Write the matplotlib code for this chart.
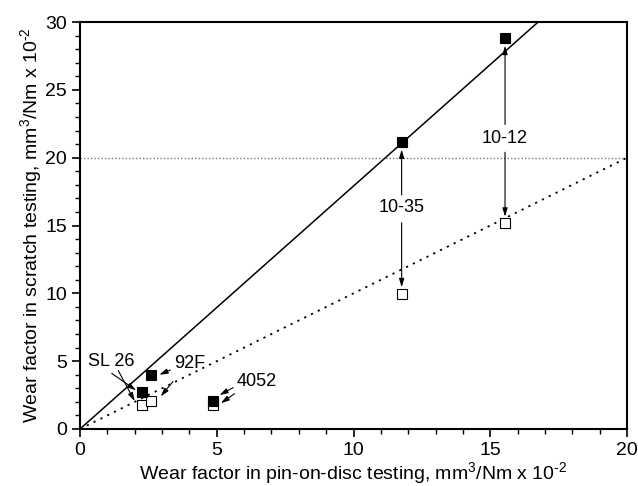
import matplotlib
matplotlib.use("Agg")
import matplotlib.pyplot as plt

plt.rcParams["font.family"] = ["Liberation Sans", "DejaVu Sans"]
plt.rcParams["mathtext.fontset"] = "custom"
plt.rcParams["mathtext.rm"] = "Liberation Sans"
plt.rcParams["mathtext.it"] = "Liberation Sans"

# wear factors: pin-on-disc (x) vs scratch (y), x 10^-2 mm3/Nm
pod_x = [2.25, 2.58, 4.85, 11.76, 15.54]
scratch_filled = [2.7, 3.95, 2.05, 21.17, 28.85]
scratch_open = [1.77, 2.09, 1.8, 9.95, 15.2]

# fitted line for filled points and 1:1 reference line
fit_x = [0, 16.75]
fit_y = [0, 30]
ref_x = [0, 20]
ref_y = [0, 20]
limit_y = 20

fig = plt.figure(figsize=(6.38, 4.86), dpi=100)
ax = fig.add_axes([0.1254, 0.1173, 0.8574, 0.8374])

ax.plot(fit_x, fit_y, color="black", lw=1.1)
ax.plot(ref_x, ref_y, color="black", lw=1.3, linestyle=(0, (1.2, 3)))
ax.axhline(limit_y, color="#777777", lw=1.0, linestyle=(0, (1, 1.5)))

ax.plot(pod_x, scratch_filled, "s", ms=7.5, mfc="black", mec="black", mew=0.8, zorder=5)
ax.plot(pod_x, scratch_open, "s", ms=7.5, mfc="white", mec="black", mew=0.8, zorder=4)

arrow = dict(arrowstyle="-|>,head_length=0.5,head_width=0.15", color="black", lw=0.8, shrinkA=0, shrinkB=0)
fs = 13
lfs = 14

# 10-12 and 10-35
ax.text(15.54, 21.4, "10-12", ha="center", va="center", fontsize=fs)
ax.annotate("", xy=(15.54, 28.25), xytext=(15.54, 22.45), arrowprops=arrow)
ax.annotate("", xy=(15.54, 15.65), xytext=(15.54, 20.4), arrowprops=arrow)
ax.text(11.76, 16.35, "10-35", ha="center", va="center", fontsize=fs)
ax.annotate("", xy=(11.76, 20.6), xytext=(11.76, 17.25), arrowprops=arrow)
ax.annotate("", xy=(11.76, 10.45), xytext=(11.76, 15.2), arrowprops=arrow)

# low wear grades
ax.text(1.15, 5.0, "SL 26", ha="center", va="center", fontsize=fs)
ax.annotate("", xy=(2.05, 2.85), xytext=(1.16, 4.1), arrowprops=arrow)
ax.annotate("", xy=(2.0, 2.05), xytext=(1.4, 4.3), arrowprops=arrow)
ax.text(4.0, 4.85, "92F", ha="center", va="center", fontsize=fs)
ax.annotate("", xy=(2.9, 4.0), xytext=(3.3, 4.35), arrowprops=arrow)
ax.annotate("", xy=(2.95, 2.4), xytext=(3.4, 3.5), arrowprops=arrow)
ax.text(6.45, 3.5, "4052", ha="center", va="center", fontsize=fs)
ax.annotate("", xy=(5.1, 2.5), xytext=(5.6, 3.05), arrowprops=arrow)
ax.annotate("", xy=(5.15, 1.9), xytext=(5.65, 2.6), arrowprops=arrow)

ax.set_xlim(0, 20)
ax.set_ylim(0, 30)
ax.set_xticks([0, 5, 10, 15, 20])
ax.set_yticks([0, 5, 10, 15, 20, 25, 30])
ax.set_xticks(range(0, 21), minor=True)
ax.set_yticks(range(0, 31), minor=True)
ax.tick_params(which="major", direction="out", length=6, width=1.2, labelsize=lfs)
ax.tick_params(which="minor", direction="out", length=3.5, width=1.0)
ax.tick_params(top=False, right=False, which="both")
for s in ax.spines.values():
    s.set_linewidth(1.5)

ax.set_xlabel(r"Wear factor in pin-on-disc testing, mm$^{\mathregular{3}}$/Nm x 10$^{\text{-2}}$",
              fontsize=lfs, labelpad=1)
ax.set_ylabel(r"Wear factor in scratch testing, mm$^{\mathregular{3}}$/Nm x 10$^{\text{-2}}$",
              fontsize=lfs, labelpad=1)

fig.savefig("out.png", dpi=100)
